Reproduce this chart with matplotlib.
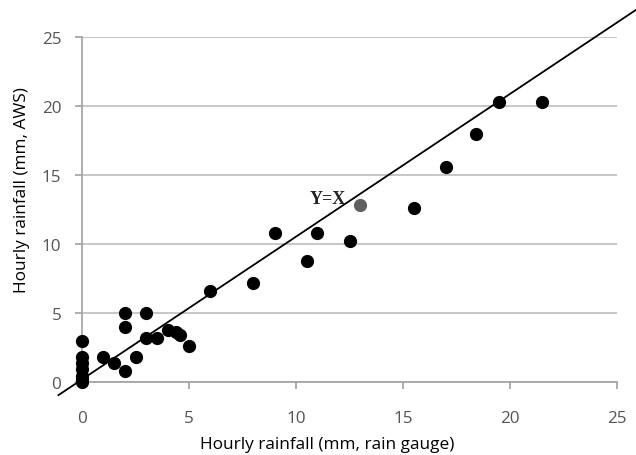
import matplotlib
matplotlib.use("Agg")
import matplotlib.pyplot as plt

gauge = [0, 0, 0, 0, 0, 0, 0, 1.0, 1.5, 2.0, 2.5, 2.0, 2.0, 3.0, 3.0, 3.5, 4.0, 4.4, 4.6, 5.0,
         6.0, 8.0, 9.0, 10.5, 11.0, 12.5, 15.5, 17.0, 18.4, 19.5, 21.5]
aws = [3.0, 1.8, 1.4, 0.95, 0.45, 0.2, 0.0, 1.8, 1.4, 0.8, 1.8, 5.0, 4.0, 5.0, 3.2, 3.2, 3.8, 3.6, 3.4, 2.6,
       6.6, 7.2, 10.8, 8.8, 10.8, 10.2, 12.6, 15.6, 18.0, 20.3, 20.3]
gray_pt_x = [13.0]
gray_pt_y = [12.8]
line_x = [-1.1, 26.5]
line_y = [-0.95, 27.6]
ticks = [0, 5, 10, 15, 20, 25]

plt.rcParams['font.family'] = ['Open Sans', 'DejaVu Sans']
fig = plt.figure(figsize=(6.36, 4.56), dpi=100)
ax = fig.add_axes([82/636, 1-383/456, 535/636, 345/456])
ax.set_xlim(0, 25)
ax.set_ylim(0, 25)

for s in ['top', 'right']:
    ax.spines[s].set_visible(False)
for s in ['left', 'bottom']:
    ax.spines[s].set_color('#a0a0a0')
    ax.spines[s].set_linewidth(1.2)

ax.set_xticks(ticks)
ax.set_yticks(ticks)
ax.tick_params(axis='both', length=5, width=1.2, color='#a0a0a0', labelcolor='#555555', labelsize=12.3)
ax.tick_params(axis='x', pad=15)
ax.tick_params(axis='y', pad=10)
ax.yaxis.grid(True, color='#bdbdbd', linewidth=1.2)
ax.set_axisbelow(True)

ax.plot(line_x, line_y, color='black', linewidth=1.3, clip_on=False, zorder=3)
ax.plot(gauge, aws, 'o', color='black', markersize=8.5, clip_on=False, zorder=4)
ax.plot(gray_pt_x, gray_pt_y, 'o', color='#606060', markersize=8.5, clip_on=False, zorder=4)
ax.text(12.35, 13.3, 'Y=X', family=['Liberation Serif', 'DejaVu Serif'], fontweight='bold',
        fontsize=13, ha='right', va='center', color='#222222')

fig.text(327/636, 1-445/456, 'Hourly rainfall (mm, rain gauge)', fontsize=12.4,
         ha='center', va='center', color='black')
fig.text(22/636, 1-190/456, 'Hourly rainfall (mm, AWS)', fontsize=12.4,
         ha='center', va='center', rotation=90, color='black')

fig.savefig('out.png', dpi=100)
